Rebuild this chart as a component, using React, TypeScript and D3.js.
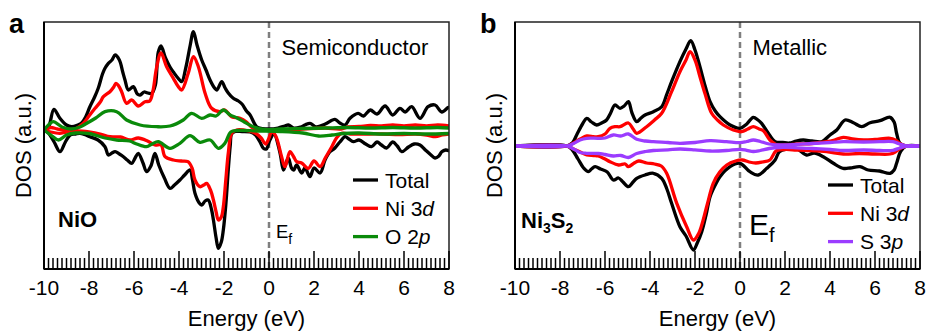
import React from 'react';
import * as d3 from 'd3';

type Pt = [number, number];

// Energy axis (eV)
const energyTicks = [-10, -8, -6, -4, -2, 0, 2, 4, 6, 8];
const energyTickLabels = ['-10', '-8', '-6', '-4', '-2', '0', '2', '4', '6', '8'];
const energyDomain: [number, number] = [-10, 8];

// ---- NiO projected DOS (spin up positive, spin down negative) ----
const nioTotalUp: Pt[] = [
  [-10, 0], [-9.8, 3], [-9.56, 20.7], [-9.3, 12], [-9.0, 5], [-8.77, 3.3], [-8.5, 5], [-8.33, 7],
  [-8.15, 13], [-7.96, 23.3], [-7.75, 33], [-7.59, 41.7], [-7.4, 56], [-7.29, 61.7], [-7.14, 66.7],
  [-6.98, 70], [-6.84, 75], [-6.65, 70], [-6.5, 58], [-6.4, 50], [-6.25, 40], [-6.03, 43.3],
  [-5.85, 36], [-5.73, 35], [-5.55, 38], [-5.44, 37.3], [-5.21, 36.7], [-5.05, 45], [-4.92, 78],
  [-4.8, 84], [-4.6, 72], [-4.4, 63], [-4.25, 58], [-4.05, 52], [-3.88, 48.3], [-3.7, 62],
  [-3.5, 85], [-3.36, 98.3], [-3.2, 85], [-2.99, 70], [-2.8, 60], [-2.62, 50], [-2.42, 42],
  [-2.32, 40], [-2.1, 48.3], [-1.95, 42], [-1.81, 37], [-1.6, 32], [-1.36, 29], [-1.2, 26],
  [-1.0, 19], [-0.84, 15], [-0.55, 3.3], [-0.3, 1.5], [0, 1], [0.4, 2], [0.7, 4], [0.86, 5],
  [1.1, 2], [1.4, 3], [1.6, 5], [1.82, 6.7], [2.1, 3], [2.5, 6], [2.93, 10.7], [3.15, 7],
  [3.38, 5], [3.6, 11.7], [3.96, 16.7], [4.2, 14], [4.5, 20], [4.8, 16], [5.16, 24], [5.5, 15],
  [5.82, 21.7], [6.05, 18], [6.34, 23.3], [6.71, 11.7], [7.07, 23.3], [7.38, 25], [7.68, 18],
  [7.97, 22.7], [8, 22.5],
];
const nioTotalDown: Pt[] = [
  [-10, 0], [-9.8, -3], [-9.55, -12], [-9.29, -21.7], [-9.05, -12], [-8.84, -5], [-8.6, -4],
  [-8.4, -3.3], [-8.2, -4.5], [-7.96, -6.7], [-7.6, -10], [-7.29, -16.7], [-7.14, -25],
  [-6.98, -23], [-6.84, -21.7], [-6.65, -24], [-6.47, -26.7], [-6.3, -30], [-6.1, -33.3],
  [-5.95, -28], [-5.81, -23.3], [-5.6, -33], [-5.44, -41.7], [-5.25, -36], [-5.07, -23.3],
  [-4.9, -35], [-4.65, -48], [-4.4, -58.3], [-4.2, -55], [-3.96, -50], [-3.75, -45],
  [-3.51, -40], [-3.4, -50], [-3.29, -63.3], [-3.1, -73], [-2.99, -75], [-2.84, -71],
  [-2.7, -70], [-2.55, -80], [-2.47, -90], [-2.35, -108], [-2.25, -118.3], [-2.12, -112],
  [-2.03, -100], [-1.92, -75], [-1.81, -40], [-1.72, -15], [-1.66, -4], [-1.5, -1.5],
  [-1.2, -1.5], [-0.84, -2], [-0.6, -5], [-0.4, -12], [-0.25, -18.3], [-0.12, -19], [0.04, -10],
  [0.22, -4], [0.49, -23], [0.64, -40], [0.76, -33], [0.86, -28], [1.0, -38], [1.1, -40],
  [1.23, -35], [1.45, -43], [1.6, -38], [1.82, -46.7], [2.0, -38], [2.27, -43], [2.49, -30],
  [2.7, -22], [2.93, -18], [3.15, -12], [3.38, -6.7], [3.55, -9], [3.75, -11.7], [4.0, -10],
  [4.3, -14], [4.56, -16.7], [4.8, -12], [5.0, -15], [5.23, -18], [5.5, -12], [5.7, -16],
  [5.9, -21.7], [6.2, -17], [6.45, -14], [6.71, -15], [6.95, -20], [7.2, -25], [7.38, -28],
  [7.55, -26], [7.68, -21.7], [7.85, -20], [8, -20.7],
];
const nioNi3dUp: Pt[] = [
  [-10, 0], [-9.7, 2.5], [-9.4, 1], [-9.0, 0], [-8.6, 1], [-8.25, 6.7], [-8.0, 14], [-7.73, 21.7],
  [-7.5, 28], [-7.36, 33.3], [-7.07, 38.3], [-6.9, 43], [-6.8, 46.7], [-6.68, 44], [-6.55, 38.3],
  [-6.33, 26.7], [-6.1, 30], [-5.81, 24], [-5.51, 28.3], [-5.3, 29], [-5.15, 40], [-5.0, 62],
  [-4.8, 77], [-4.55, 63.3], [-4.25, 51.7], [-4.05, 44], [-3.88, 40], [-3.59, 56.7],
  [-3.36, 73.3], [-3.14, 63.3], [-2.84, 36.7], [-2.55, 21.7], [-2.18, 18.3], [-1.96, 20],
  [-1.66, 13.3], [-1.29, 11.7], [-1.0, 8], [-0.7, 1.7], [-0.3, 0], [0.5, 0], [1.5, 1], [2.5, 2],
  [3.2, 1], [3.5, 3], [4.0, 3.5], [4.5, 4.5], [5.0, 4], [5.5, 5], [6.0, 4], [6.5, 5], [7.0, 4],
  [7.5, 5], [8, 4],
];
const nioNi3dDown: Pt[] = [
  [-10, 0], [-9.7, -2], [-9.3, -3.3], [-9.0, -2], [-8.5, -1], [-8.0, -2], [-7.5, -4],
  [-7.07, -6.7], [-6.6, -7], [-6.18, -10], [-5.81, -8], [-5.4, -11], [-5.07, -15], [-4.8, -15],
  [-4.62, -26.7], [-4.25, -30], [-3.9, -31], [-3.6, -31.7], [-3.42, -38], [-3.29, -50],
  [-3.07, -56.7], [-2.9, -55], [-2.77, -53.3], [-2.6, -60], [-2.47, -70], [-2.35, -82],
  [-2.25, -90], [-2.12, -87], [-2.03, -76.7], [-1.92, -50], [-1.81, -23.3], [-1.66, -3.3],
  [-1.44, 0], [-0.9, -1], [-0.6, -3.3], [-0.35, -8], [-0.15, -14], [-0.02, -9], [0.12, -2],
  [0.3, -6], [0.56, -26.7], [0.71, -36.7], [0.93, -21.7], [1.1, -27], [1.23, -31.7],
  [1.45, -33], [1.75, -38.3], [2.0, -31], [2.27, -36.7], [2.5, -28], [2.79, -16.7], [3.0, -8],
  [3.23, -3.3], [3.6, -4], [4.2, -4], [5.0, -4], [5.8, -4.5], [6.5, -4], [7.0, -5], [7.4, -6.7],
  [7.7, -5], [8, -4],
];
const nioO2pUp: Pt[] = [
  [-10, 0], [-9.8, 5], [-9.59, 8.3], [-9.2, 3], [-8.8, 1], [-8.4, 3], [-8.1, 6.7], [-7.7, 12],
  [-7.29, 18.3], [-6.77, 18.3], [-6.33, 10], [-5.73, 5], [-4.99, 3.3], [-4.4, 4], [-3.81, 10],
  [-3.44, 16.7], [-2.99, 11.7], [-2.62, 15], [-2.35, 14], [-2.03, 20], [-1.73, 15],
  [-1.44, 12.3], [-1.1, 8], [-0.7, 3.3], [-0.2, 0.5], [0.5, 1], [1.5, 1.5], [2.5, 2], [3.5, 2.5],
  [4.5, 2], [5.5, 2.5], [6.5, 2], [7.5, 2.5], [8, 2],
];
const nioO2pDown: Pt[] = [
  [-10, 0], [-9.7, -5], [-9.36, -10], [-9.0, -5], [-8.6, -3], [-8.0, -3.5], [-7.29, -8],
  [-6.77, -10], [-6.2, -11], [-5.88, -14], [-5.44, -16.7], [-5.2, -14], [-4.92, -11.7],
  [-4.4, -18.3], [-3.96, -13.3], [-3.51, -5.7], [-3.07, -12.3], [-2.62, -10], [-2.25, -18.3],
  [-1.96, -13.3], [-1.7, -2], [-1.4, -0.5], [-0.5, -1], [0.5, -1.5], [1.5, -3], [2.2, -6],
  [2.8, -5], [3.3, -3.5], [4.0, -3], [5.0, -4], [6.0, -3.5], [7.0, -4], [8, -3.5],
];

// ---- Ni3S2 projected DOS ----
const ni3s2TotalUp: Pt[] = [
  [-10, 0], [-7.7, 0], [-7.45, 3], [-7.26, 11], [-7.0, 22], [-6.81, 27.7], [-6.6, 24],
  [-6.37, 21], [-6.15, 23], [-5.93, 26], [-5.75, 33], [-5.56, 41], [-5.33, 37.7], [-5.15, 40],
  [-4.96, 44.3], [-4.8, 33], [-4.59, 24.3], [-4.4, 28], [-4.22, 31], [-3.85, 34.3],
  [-3.48, 39.3], [-3.25, 52], [-3.04, 64.3], [-2.67, 84.3], [-2.4, 97], [-2.19, 105.3],
  [-2.0, 96], [-1.78, 79.3], [-1.55, 60], [-1.33, 44.3], [-1.1, 35], [-0.89, 29.3],
  [-0.44, 21], [0, 17.7], [0.3, 22], [0.59, 28.7], [0.8, 26], [0.96, 22.7], [1.26, 12.7],
  [1.56, 4.3], [1.9, 3.5], [2.2, 3], [2.5, 5], [2.81, 6], [3.2, 5], [3.63, 4.3], [4.0, 11],
  [4.3, 16], [4.67, 26], [5.04, 23.3], [5.41, 19.3], [5.78, 23.3], [6.22, 25.3], [6.67, 28.7],
  [6.85, 24], [6.96, 12.7], [7.11, 2.7], [7.4, 0], [8, 0],
];
const ni3s2TotalDown: Pt[] = [
  [-10, 0], [-7.7, 0], [-7.45, -4], [-7.2, -13], [-6.95, -22], [-6.74, -25.7], [-6.6, -23],
  [-6.44, -20.7], [-6.2, -23], [-5.9, -26], [-5.63, -34], [-5.4, -32], [-5.2, -36],
  [-4.96, -40.7], [-4.75, -36], [-4.59, -32.3], [-4.22, -29], [-3.85, -27.3], [-3.48, -32.3],
  [-3.25, -43], [-3.04, -57.3], [-2.67, -80.7], [-2.4, -90], [-2.07, -104], [-1.9, -97],
  [-1.7, -85.7], [-1.5, -68], [-1.33, -50.7], [-1.1, -39], [-0.89, -30.7], [-0.44, -20.7],
  [0, -17.3], [0.44, -25.7], [0.81, -29], [1.19, -22.3], [1.56, -14], [1.75, -5.7], [2.1, -3],
  [2.5, -2.3], [2.96, -9], [3.3, -7], [3.7, -10.7], [4.15, -17.3], [4.59, -22.3], [4.9, -22],
  [5.33, -20.7], [5.7, -24], [6.2, -25], [6.67, -27.3], [6.85, -24], [6.96, -17.3],
  [7.15, -5], [7.4, 0], [8, 0],
];
const ni3s2Ni3dUp: Pt[] = [
  [-10, 0], [-7.7, 0], [-7.4, 3], [-7.1, 7], [-6.81, 10], [-6.5, 9.3], [-6.3, 9.3], [-6.0, 12],
  [-5.78, 17.7], [-5.56, 19.3], [-5.33, 19.3], [-4.96, 23], [-4.75, 17], [-4.59, 12.7],
  [-4.15, 19.3], [-3.8, 26], [-3.48, 32.7], [-3.04, 54.3], [-2.67, 74.3], [-2.4, 86],
  [-2.22, 94.3], [-2.0, 86], [-1.78, 69.3], [-1.55, 52], [-1.26, 32.7], [-1.0, 26],
  [-0.74, 21], [-0.3, 16], [0.07, 14.3], [0.35, 17], [0.59, 19.3], [0.85, 17], [1.05, 15],
  [1.33, 6], [1.6, 1.5], [2.0, 1], [2.6, 2], [3.2, 2.5], [3.85, 4.3], [4.2, 6], [4.59, 8.7],
  [5.0, 7], [5.5, 6], [6.0, 6.5], [6.67, 7.7], [6.9, 6], [7.15, 2], [7.4, 0], [8, 0],
];
const ni3s2Ni3dDown: Pt[] = [
  [-10, 0], [-7.7, 0], [-7.4, -3], [-7.1, -6], [-6.81, -9], [-6.5, -9.5], [-6.3, -10],
  [-6.0, -13], [-5.78, -15.7], [-5.4, -19], [-5.1, -18], [-4.96, -20.7], [-4.7, -17],
  [-4.5, -15], [-4.15, -17], [-3.8, -18], [-3.5, -20], [-3.26, -27.3], [-2.81, -57.3],
  [-2.37, -80.7], [-2.07, -94], [-1.85, -88], [-1.7, -79], [-1.45, -58], [-1.19, -37.3],
  [-0.9, -26], [-0.59, -19], [-0.2, -15], [0.1, -14], [0.4, -16], [0.7, -17], [1.0, -16],
  [1.33, -14], [1.6, -5], [2.0, -3.5], [2.5, -4], [3.0, -4.5], [3.85, -5.7], [4.59, -8],
  [5.3, -7.5], [6.0, -8], [6.67, -8], [6.9, -6], [7.15, -2], [7.4, 0], [8, 0],
];
const ni3s2S3pUp: Pt[] = [
  [-10, 0], [-7.7, 0], [-7.4, 2.5], [-7.11, 6], [-6.81, 7.7], [-6.3, 7.7], [-6.0, 8],
  [-5.63, 11], [-5.3, 10], [-4.96, 12], [-4.59, 6.7], [-4.2, 5], [-3.85, 4.3], [-3.2, 3.5],
  [-2.67, 2.7], [-2.0, 3.5], [-1.33, 5.3], [-0.6, 4.3], [0, 3.3], [0.3, 4.5], [0.59, 6],
  [0.9, 4.5], [1.3, 2], [1.8, 1], [2.5, 1.5], [3.2, 2.5], [4.0, 3.5], [4.6, 4.3], [5.5, 4],
  [6.2, 4.3], [6.8, 4.3], [7.1, 2], [7.4, 0], [8, 0],
];
const ni3s2S3pDown: Pt[] = [
  [-10, 0], [-7.7, 0], [-7.4, -3], [-7.11, -6.5], [-6.81, -7.3], [-6.3, -7.5], [-6.0, -8.5],
  [-5.63, -10], [-5.3, -9.5], [-4.96, -11.5], [-4.59, -7.5], [-4.2, -5.5], [-3.85, -4.5],
  [-3.2, -3.8], [-2.67, -3], [-2.0, -3.8], [-1.33, -5], [-0.6, -4.5], [0, -3.3], [0.3, -4.3],
  [0.59, -5.5], [0.9, -4.5], [1.3, -2.5], [1.8, -1.5], [2.5, -1.8], [3.2, -2.5], [4.0, -3.5],
  [4.6, -4.5], [5.5, -4], [6.2, -4.5], [6.8, -4.3], [7.1, -2], [7.4, 0], [8, 0],
];

const FONT = '"Liberation Sans", Arial, Helvetica, sans-serif';

type Series = { data: Pt[]; color: string };
type LegendItem = { color: string; name: string; orb?: string; italic?: string };

interface PanelProps {
  id: string;
  left: number;
  right: number;
  top: number;
  bottom: number;
  yDomain: [number, number];
  series: Series[];
  letter: string;
  regime: string;
  legend: LegendItem[];
  legendX: number;
  legendY: number;
  yLabelX: number;
  children?: React.ReactNode;
}

function Panel(p: PanelProps) {
  const x = d3.scaleLinear().domain(energyDomain).range([p.left, p.right]);
  const y = d3.scaleLinear().domain(p.yDomain).range([p.bottom, p.top]);
  const line = d3
    .line<Pt>()
    .x((d) => x(d[0]))
    .y((d) => y(d[1]))
    .curve(d3.curveCatmullRom.alpha(0.5));

  const minor = d3.range(-10, 8.0001, 0.2).filter((v) => Math.abs(v / 2 - Math.round(v / 2)) > 1e-6);
  const x0 = x(0);

  return (
    <g>
      <defs>
        <clipPath id={`clip-${p.id}`}>
          <rect x={p.left} y={p.top} width={p.right - p.left} height={p.bottom - p.top} />
        </clipPath>
      </defs>
      {/* Fermi level */}
      <line x1={x0} x2={x0} y1={p.top} y2={p.bottom} stroke="#7f7f7f" strokeWidth={2.5} strokeDasharray="6,4" />
      <g clipPath={`url(#clip-${p.id})`}>
        {p.series.map((s, i) => (
          <path key={i} d={line(s.data) || ''} fill="none" stroke={s.color} strokeWidth={3.3} strokeLinejoin="round" strokeLinecap="round" />
        ))}
      </g>
      {/* frame */}
      <rect x={p.left} y={p.top} width={p.right - p.left} height={p.bottom - p.top} fill="none" stroke="#222" strokeWidth={1.5} />
      <line x1={p.left} x2={p.left} y1={p.top} y2={p.bottom} stroke="#000" strokeWidth={2} />
      <line x1={p.left} x2={p.right} y1={p.bottom} y2={p.bottom} stroke="#000" strokeWidth={2} />
      {/* ticks */}
      {minor.map((v, i) => (
        <line key={`m${i}`} x1={x(v)} x2={x(v)} y1={p.bottom} y2={p.bottom - 11} stroke="#000" strokeWidth={1.5} />
      ))}
      {energyTicks.map((v, i) => (
        <g key={`t${i}`}>
          <line x1={x(v)} x2={x(v)} y1={p.bottom} y2={p.bottom - 18} stroke="#000" strokeWidth={1.5} />
          <text x={x(v)} y={p.bottom + 26} textAnchor="middle" fontSize={21} fontFamily={FONT} fill="#000">
            {energyTickLabels[i]}
          </text>
        </g>
      ))}
      <text x={(p.left + p.right) / 2} y={326} textAnchor="middle" fontSize={22} fontFamily={FONT} fill="#000">
        Energy (eV)
      </text>
      <text
        transform={`translate(${p.yLabelX},${(p.top + p.bottom) / 2}) rotate(-90)`}
        textAnchor="middle"
        fontSize={22}
        fontFamily={FONT}
        fill="#000"
      >
        DOS (a.u.)
      </text>
      <text x={p.left - 35} y={33} fontSize={27} fontWeight="bold" fontFamily={FONT} fill="#000">
        {p.letter}
      </text>
      <text x={x0 + 12.5} y={55} fontSize={22} fontFamily={FONT} fill="#000">
        {p.regime}
      </text>
      {p.legend.map((l, i) => (
        <g key={`l${i}`}>
          <line x1={p.legendX} x2={p.legendX + 25} y1={p.legendY + i * 28.3} y2={p.legendY + i * 28.3} stroke={l.color} strokeWidth={3.3} />
          <text x={p.legendX + 32} y={p.legendY + i * 28.3 + 7.8} fontSize={21} fontFamily={FONT} fill="#000">
            {l.name}
            {l.orb ? ` ${l.orb}` : ''}
            {l.italic ? <tspan fontStyle="italic">{l.italic}</tspan> : null}
          </text>
        </g>
      ))}
      {p.children}
    </g>
  );
}

export default function App() {
  return (
    <svg width={928} height={332} style={{ position: 'absolute', left: 0, top: 0, background: '#fff' }}>
      <rect width={928} height={332} fill="#fff" />
      <Panel
        id="nio"
        left={44}
        right={449}
        top={22}
        bottom={269}
        yDomain={[-139, 108]}
        letter="a"
        regime="Semiconductor"
        yLabelX={31}
        legendX={353}
        legendY={180}
        legend={[
          { color: '#000', name: 'Total' },
          { color: '#ff0000', name: 'Ni', orb: '3', italic: 'd' },
          { color: '#0a8a0a', name: 'O', orb: '2', italic: 'p' },
        ]}
        series={[
          { data: nioTotalUp, color: '#000' },
          { data: nioTotalDown, color: '#000' },
          { data: nioNi3dUp, color: '#ff0000' },
          { data: nioNi3dDown, color: '#ff0000' },
          { data: nioO2pUp, color: '#0a8a0a' },
          { data: nioO2pDown, color: '#0a8a0a' },
        ]}
      >
        <text x={58} y={227} fontSize={22} fontWeight="bold" fontFamily={FONT} fill="#000">NiO</text>
        <text x={276} y={238} fontSize={18.5} fontFamily={FONT} fill="#000">
          E<tspan fontSize={14} dy={6}>f</tspan>
        </text>
      </Panel>
      <Panel
        id="ni3s2"
        left={515}
        right={920}
        top={22}
        bottom={269}
        yDomain={[-123, 124]}
        letter="b"
        regime="Metallic"
        yLabelX={502}
        legendX={828}
        legendY={185}
        legend={[
          { color: '#000', name: 'Total' },
          { color: '#ff0000', name: 'Ni', orb: '3', italic: 'd' },
          { color: '#9b3cff', name: 'S', orb: '3', italic: 'p' },
        ]}
        series={[
          { data: ni3s2TotalUp, color: '#000' },
          { data: ni3s2TotalDown, color: '#000' },
          { data: ni3s2Ni3dUp, color: '#ff0000' },
          { data: ni3s2Ni3dDown, color: '#ff0000' },
          { data: ni3s2S3pUp, color: '#9b3cff' },
          { data: ni3s2S3pDown, color: '#9b3cff' },
        ]}
      >
        <text x={521} y={228} fontSize={22} fontWeight="bold" fontFamily={FONT} fill="#000">
          Ni<tspan fontSize={14} dy={5}>3</tspan>
          <tspan dy={-5}>S</tspan>
          <tspan fontSize={14} dy={5}>2</tspan>
        </text>
        <text x={749} y={235} fontSize={30} fontFamily={FONT} fill="#000">
          E<tspan fontSize={20} dy={7}>f</tspan>
        </text>
      </Panel>
    </svg>
  );
}
